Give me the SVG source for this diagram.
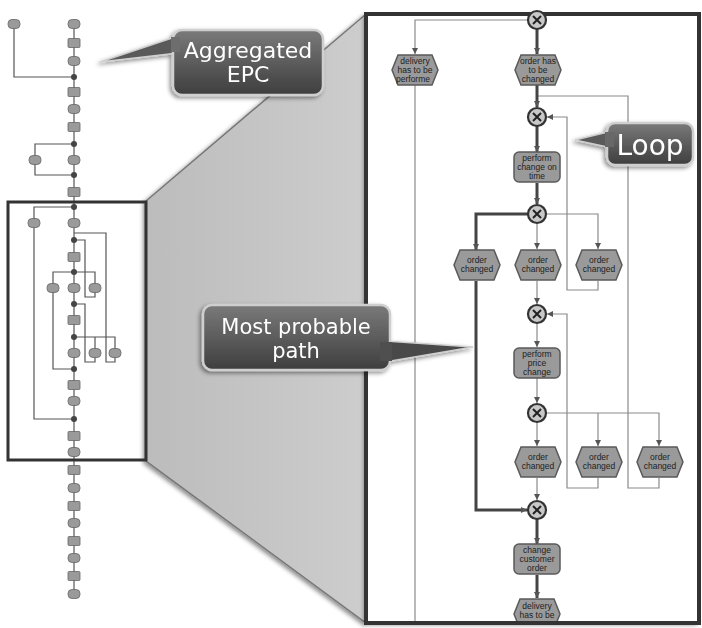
<svg xmlns="http://www.w3.org/2000/svg" xmlns:xlink="http://www.w3.org/1999/xlink" width="702" height="628" viewBox="0 0 702 628">
<defs>
<style>
.mini{fill:none;stroke:#555;stroke-width:1.2}
.mf{fill:#9a9a9a;stroke:#666;stroke-width:0.8}
.mc{fill:#444}
.thin{fill:none;stroke:#8a8a8a;stroke-width:1.2}
.thick{fill:none;stroke:#444;stroke-width:3}
.node{fill:#9a9a9a;stroke:#5a5a5a;stroke-width:1.5}
.xor{fill:#c8c8c8;stroke:#333;stroke-width:2.2}
.x{stroke:#222;stroke-width:2;fill:none}
.nt{font-family:"Liberation Sans",Arial,sans-serif;font-size:8.5px;fill:#222;text-anchor:middle}
.ct{font-family:"DejaVu Sans","Open Sans",sans-serif;fill:#fff;text-anchor:middle}
.callout{fill:url(#cg);stroke:#cfcfcf;stroke-width:2.5}
.frame{fill:none;stroke:#333}
</style>
<linearGradient id="cg" x1="0" y1="0" x2="0" y2="1">
<stop offset="0" stop-color="#7a7a7a"/>
<stop offset="1" stop-color="#3e3e3e"/>
</linearGradient>
<linearGradient id="fg" x1="0" y1="0" x2="1" y2="0">
<stop offset="0" stop-color="#bcbcbc"/>
<stop offset="1" stop-color="#cdcdcd"/>
</linearGradient>
<filter id="sh" x="-20%" y="-20%" width="140%" height="140%">
<feDropShadow dx="-2" dy="2" stdDeviation="2" flood-color="#000" flood-opacity="0.45"/>
</filter>
<polygon id="hex" points="-17,-15 17,-15 23,0 17,15 -17,15 -23,0"/>
<rect id="fn" x="-23" y="-15" width="46" height="30" rx="5"/>
<rect id="me" x="-6" y="-4.5" width="12" height="9" rx="4"/>
<rect id="mfn" x="-6" y="-4.5" width="12" height="9" rx="1"/>
<marker id="ar" viewBox="0 0 6 6" refX="6" refY="3" markerWidth="6" markerHeight="6" markerUnits="userSpaceOnUse" orient="auto">
<path d="M0,0 L6,3 L0,6 z" fill="#555"/>
</marker>
<clipPath id="pc"><rect x="368" y="16" width="329" height="605"/></clipPath>
</defs>
<rect width="702" height="628" fill="#fff"/>

<g id="funnel">
<polygon points="146,201 366,14 366,623 146,461" fill="url(#fg)" stroke="#777" stroke-width="1.5" filter="url(#sh)"/>
</g>

<g id="mini-connectors">
<path class="mini" d="M74,24 V594"/>
<path class="mini" d="M14,28 V77 H74"/>
<path class="mini" d="M74,144 H35 V175 H74"/>
<path class="mini" d="M74,207 H34 V419 H74"/>
<path class="mini" d="M74,233 H106 V362 H115 V357"/>
<path class="mini" d="M74,240 H85 V297 H95 V292"/>
<path class="mini" d="M53,284 V272 H95 V284"/>
<path class="mini" d="M53,292 V369 H74"/>
<path class="mini" d="M74,304 H85 V362 H95 V357"/>
<path class="mini" d="M74,337 H115 V349"/>
<path class="mini" d="M95,337 V349"/>
</g>
<g id="mini-nodes">
<use href="#me" x="14" y="24" class="mf"/>
<use href="#me" x="74" y="24" class="mf"/>
<use href="#mfn" x="74" y="43" class="mf"/>
<use href="#me" x="74" y="61" class="mf"/>
<circle cx="74" cy="77" r="3" class="mc"/>
<use href="#mfn" x="74" y="92" class="mf"/>
<use href="#me" x="74" y="109" class="mf"/>
<use href="#mfn" x="74" y="127" class="mf"/>
<circle cx="74" cy="144" r="3" class="mc"/>
<use href="#me" x="35" y="160" class="mf"/>
<use href="#me" x="74" y="160" class="mf"/>
<circle cx="74" cy="175" r="3" class="mc"/>
<use href="#mfn" x="74" y="192" class="mf"/>
<circle cx="74" cy="207" r="3" class="mc"/>
<use href="#me" x="34" y="223" class="mf"/>
<use href="#me" x="74" y="223" class="mf"/>
<circle cx="74" cy="240" r="3" class="mc"/>
<use href="#mfn" x="74" y="257" class="mf"/>
<circle cx="74" cy="272" r="3" class="mc"/>
<use href="#me" x="53" y="288" class="mf"/>
<use href="#me" x="74" y="288" class="mf"/>
<use href="#me" x="95" y="288" class="mf"/>
<circle cx="74" cy="304" r="3" class="mc"/>
<use href="#mfn" x="74" y="320" class="mf"/>
<circle cx="74" cy="337" r="3" class="mc"/>
<use href="#me" x="74" y="353" class="mf"/>
<use href="#me" x="95" y="353" class="mf"/>
<use href="#me" x="115" y="353" class="mf"/>
<circle cx="74" cy="369" r="3" class="mc"/>
<use href="#mfn" x="74" y="385" class="mf"/>
<use href="#me" x="74" y="401" class="mf"/>
<circle cx="74" cy="419" r="3" class="mc"/>
<use href="#mfn" x="74" y="436" class="mf"/>
<use href="#me" x="74" y="452" class="mf"/>
<use href="#mfn" x="74" y="470" class="mf"/>
<use href="#me" x="74" y="488" class="mf"/>
<use href="#mfn" x="74" y="506" class="mf"/>
<use href="#me" x="74" y="523" class="mf"/>
<use href="#mfn" x="74" y="541" class="mf"/>
<use href="#me" x="74" y="558" class="mf"/>
<use href="#mfn" x="74" y="576" class="mf"/>
<use href="#me" x="74" y="594" class="mf"/>
</g>
<g id="mini-frame">
<rect x="8" y="202" width="138" height="258" class="frame" stroke-width="3"/>
</g>

<g id="panel">
<rect x="366" y="14" width="333" height="609" fill="#fff" filter="url(#sh)"/>
</g>
<g id="connectors" clip-path="url(#pc)">
<path class="thin" d="M528,20 H415 V54" marker-end="url(#ar)"/>
<path class="thin" d="M415,85 V630"/>
<path class="thin" d="M537,96 H628 V488 H659 V478"/>
<path class="thin" d="M598,281 V290 H567 V117 H547" marker-end="url(#ar)"/>
<path class="thin" d="M546,214 H598 V249" marker-end="url(#ar)"/>
<path class="thin" d="M537,223 V249" marker-end="url(#ar)"/>
<path class="thin" d="M537,281 V304" marker-end="url(#ar)"/>
<path class="thin" d="M598,478 V488 H567 V314 H547" marker-end="url(#ar)"/>
<path class="thin" d="M537,323 V347" marker-end="url(#ar)"/>
<path class="thin" d="M537,378 V403" marker-end="url(#ar)"/>
<path class="thin" d="M546,413 H659 V446" marker-end="url(#ar)"/>
<path class="thin" d="M598,413 V446" marker-end="url(#ar)"/>
<path class="thin" d="M537,422 V446" marker-end="url(#ar)"/>
<path class="thin" d="M537,478 V500" marker-end="url(#ar)"/>
<path class="thick" d="M537,29 V54" marker-end="url(#ar)"/>
<path class="thick" d="M537,85 V107" marker-end="url(#ar)"/>
<path class="thick" d="M537,126 V152" marker-end="url(#ar)"/>
<path class="thick" d="M537,183 V204" marker-end="url(#ar)"/>
<path class="thick" d="M528,214 H476 V250" marker-end="url(#ar)"/>
<path class="thick" d="M476,281 V510 H527" marker-end="url(#ar)"/>
<path class="thick" d="M537,519 V544" marker-end="url(#ar)"/>
<path class="thick" d="M537,575 V598" marker-end="url(#ar)"/>
</g>
<g id="panel-nodes" clip-path="url(#pc)">
<g id="n-delivery1"><use href="#hex" x="415" y="70" class="node"/><text class="nt" x="415" y="64">delivery</text><text class="nt" x="415" y="73">has to be</text><text class="nt" x="413" y="82">performe</text></g>
<g id="n-orderhas"><use href="#hex" x="538" y="70" class="node"/><text class="nt" x="538" y="64">order has</text><text class="nt" x="538" y="73">to be</text><text class="nt" x="538" y="82">changed</text></g>
<g id="n-perform1"><use href="#fn" x="537" y="167" class="node"/><text class="nt" x="537" y="161">perform</text><text class="nt" x="537" y="170">change on</text><text class="nt" x="537" y="179">time</text></g>
<g id="n-oc1"><use href="#hex" x="477" y="265" class="node"/><text class="nt" x="477" y="263">order</text><text class="nt" x="477" y="272">changed</text></g>
<g id="n-oc2"><use href="#hex" x="538" y="265" class="node"/><text class="nt" x="538" y="263">order</text><text class="nt" x="538" y="272">changed</text></g>
<g id="n-oc3"><use href="#hex" x="599" y="265" class="node"/><text class="nt" x="599" y="263">order</text><text class="nt" x="599" y="272">changed</text></g>
<g id="n-perform2"><use href="#fn" x="537" y="363" class="node"/><text class="nt" x="537" y="357">perform</text><text class="nt" x="537" y="366">price</text><text class="nt" x="537" y="375">change</text></g>
<g id="n-oc4"><use href="#hex" x="538" y="462" class="node"/><text class="nt" x="538" y="460">order</text><text class="nt" x="538" y="469">changed</text></g>
<g id="n-oc5"><use href="#hex" x="599" y="462" class="node"/><text class="nt" x="599" y="460">order</text><text class="nt" x="599" y="469">changed</text></g>
<g id="n-oc6"><use href="#hex" x="660" y="462" class="node"/><text class="nt" x="660" y="460">order</text><text class="nt" x="660" y="469">changed</text></g>
<g id="n-change"><use href="#fn" x="537" y="559" class="node"/><text class="nt" x="537" y="553">change</text><text class="nt" x="537" y="562">customer</text><text class="nt" x="537" y="571">order</text></g>
<g id="n-delivery2"><use href="#hex" x="537" y="614" class="node"/><text class="nt" x="537" y="609">delivery</text><text class="nt" x="537" y="618">has to be</text></g>
<g id="xor2"><circle cx="537" cy="117" r="9" class="xor"/><path class="x" d="M533,113 L541,121 M541,113 L533,121"/></g>
<g id="xor3"><circle cx="537" cy="214" r="9" class="xor"/><path class="x" d="M533,210 L541,218 M541,210 L533,218"/></g>
<g id="xor4"><circle cx="537" cy="314" r="9" class="xor"/><path class="x" d="M533,310 L541,318 M541,310 L533,318"/></g>
<g id="xor5"><circle cx="537" cy="413" r="9" class="xor"/><path class="x" d="M533,409 L541,417 M541,409 L533,417"/></g>
<g id="xor6"><circle cx="537" cy="510" r="9" class="xor"/><path class="x" d="M533,506 L541,514 M541,506 L533,514"/></g>
</g>
<g id="panel-frame">
<rect x="366" y="14" width="333" height="609" class="frame" stroke-width="4"/>
</g>
<g id="xor1"><circle cx="537" cy="20" r="9" class="xor"/><path class="x" d="M533,16 L541,24 M541,16 L533,24"/></g>

<g id="callout-aggregated" filter="url(#sh)">
<polygon points="100,62 178,36 178,53" fill="#5a5a5a" stroke="#cfcfcf" stroke-width="1.5"/>
<rect x="173" y="30" width="150" height="65" rx="9" class="callout"/>
<polygon points="171,37 180,37 180,52 171,52" fill="#6e6e6e"/>
<text class="ct" x="248" y="58" font-size="22">Aggregated</text>
<text class="ct" x="248" y="82" font-size="22">EPC</text>
</g>
<g id="callout-loop" filter="url(#sh)">
<polygon points="575,140 612,131 612,148" fill="#5a5a5a" stroke="#cfcfcf" stroke-width="1.5"/>
<rect x="607" y="123" width="86" height="42" rx="8" class="callout"/>
<polygon points="605,132 614,132 614,147 605,147" fill="#686868"/>
<text class="ct" x="650" y="155" font-size="28">Loop</text>
</g>
<g id="callout-path" filter="url(#sh)">
<polygon points="473,347 385,341 385,362" fill="#4a4a4a" stroke="#cfcfcf" stroke-width="1.5"/>
<rect x="203" y="305" width="187" height="65" rx="9" class="callout"/>
<polygon points="380,342 392,342 392,361 380,361" fill="#4f4f4f"/>
<text class="ct" x="296" y="334" font-size="21">Most probable</text>
<text class="ct" x="296" y="358" font-size="21">path</text>
</g>
</svg>
